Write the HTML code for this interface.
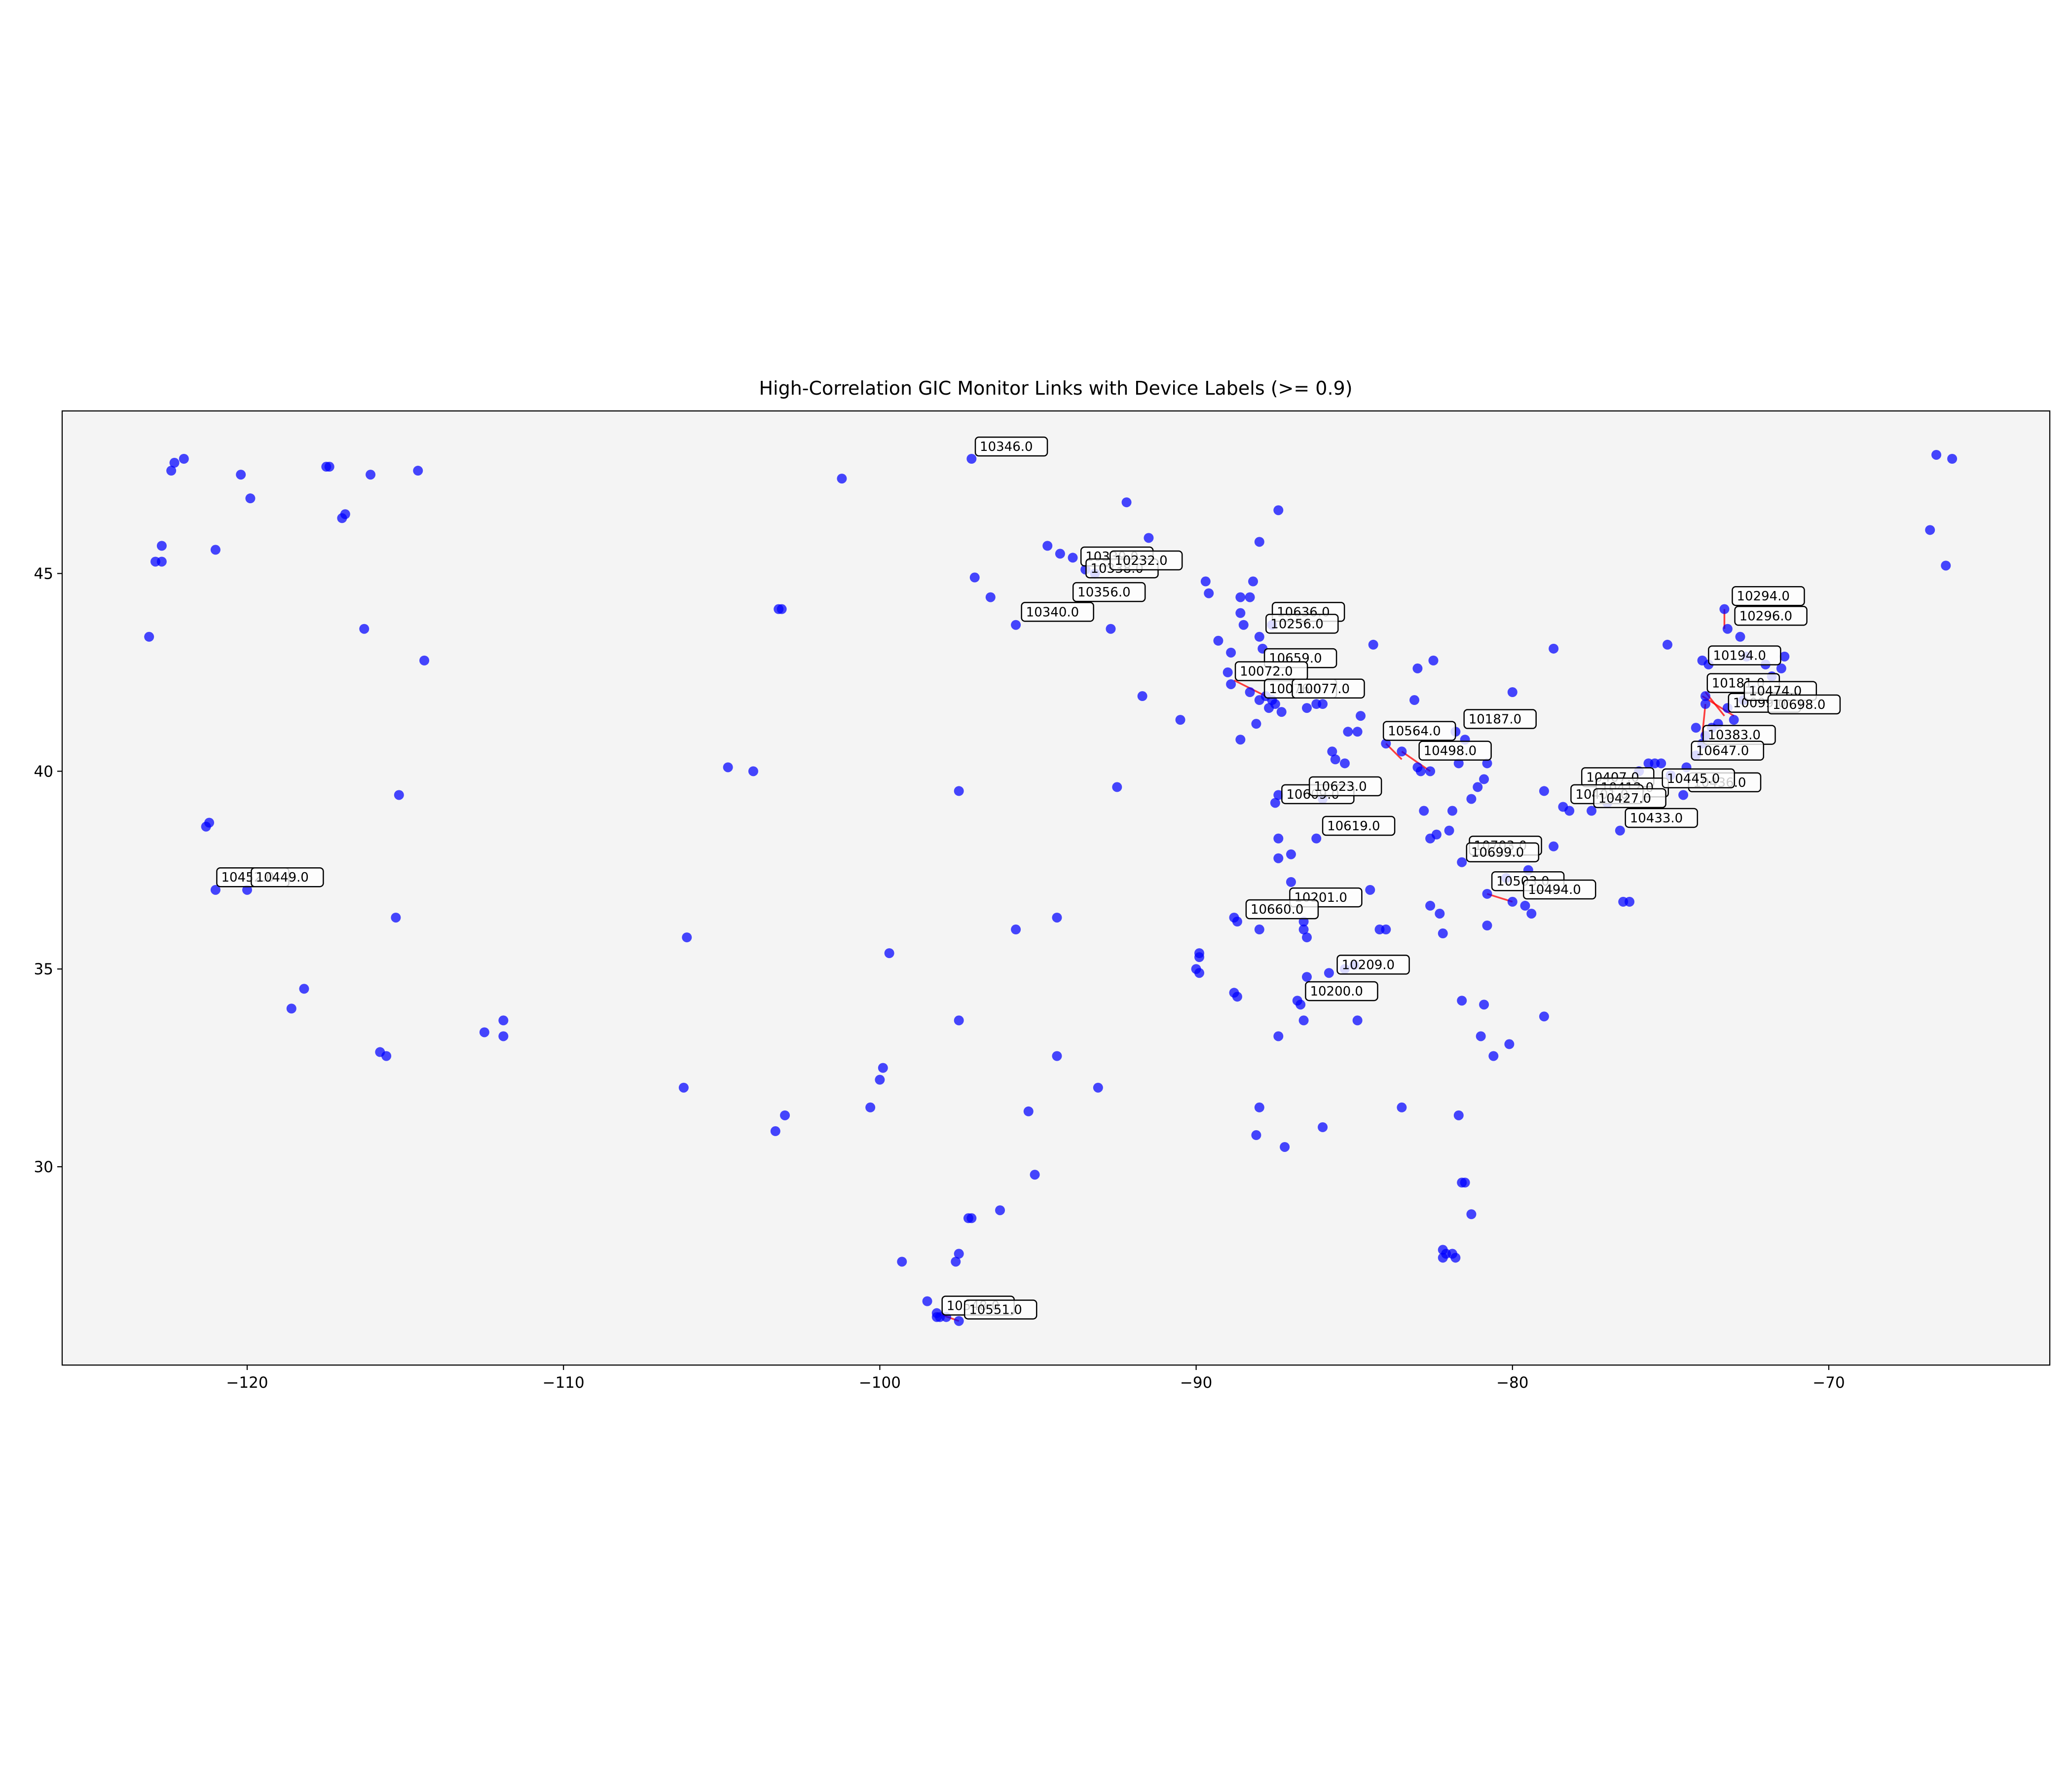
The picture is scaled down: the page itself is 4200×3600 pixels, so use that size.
<!DOCTYPE html>
<html><head><meta charset="utf-8"><style>
html,body{margin:0;padding:0;background:#fff;}
svg{display:block;font-family:"DejaVu Sans","Liberation Sans",sans-serif;}
</style></head><body>
<svg id="chart" width="4200" height="3600" viewBox="0 0 4200 3600" xmlns="http://www.w3.org/2000/svg">
<rect x="0" y="0" width="4200" height="3600" fill="#fff"/>
<text x="2140" y="800" text-anchor="middle" font-size="38" fill="#000">High-Correlation GIC Monitor Links with Device Labels (&gt;= 0.9)</text>
<rect x="126" y="833" width="4029" height="1934" fill="#f4f4f4"/>
<g id="links"></g><g id="points"></g><g id="labels"></g><g id="axes"></g>
<rect x="126" y="833" width="4029" height="1934" fill="none" stroke="#000" stroke-width="2.2"/>
</svg>
<script>
const xTicks=[-120,-110,-100,-90,-80,-70];
const yTicks=[30,35,40,45];
const lons=[-122.0,-122.3,-122.4,-120.2,-119.9,-122.7,-122.7,-122.9,-121.0,-123.1,-117.5,-117.4,-116.1,-114.6,-117.0,-116.9,-116.3,-114.4,-121.3,-121.2,-121.0,-120.0,-115.2,-115.3,-118.2,-118.6,-115.8,-115.6,-112.5,-111.9,-111.9,-106.2,-106.1,-104.8,-104.0,-103.1,-103.2,-101.2,-97.1,-103.3,-103.0,-99.7,-99.9,-100.0,-100.3,-97.5,-97.0,-96.5,-95.7,-94.7,-94.3,-93.9,-93.5,-93.2,-92.7,-92.2,-91.5,-91.7,-92.5,-90.5,-89.7,-89.6,-88.9,-89.3,-88.0,-87.4,-88.6,-88.3,-88.2,-88.6,-88.5,-88.0,-87.9,-87.6,-89.0,-88.9,-88.3,-88.0,-87.8,-87.7,-87.6,-87.3,-87.5,-86.5,-86.2,-86.0,-88.1,-88.6,-85.7,-85.6,-85.2,-84.9,-84.8,-85.3,-84.4,-83.0,-82.5,-83.1,-84.0,-83.5,-82.9,-82.6,-83.0,-81.8,-81.5,-81.7,-80.8,-80.0,-78.7,-81.1,-81.3,-80.9,-79.0,-78.4,-78.2,-77.5,-77.0,-76.6,-75.1,-76.5,-76.3,-79.4,-79.6,-80.0,-80.8,-80.2,-79.5,-78.7,-81.6,-82.0,-81.9,-82.6,-82.4,-82.8,-86.6,-86.5,-86.6,-87.4,-87.0,-87.0,-87.4,-86.2,-87.5,-87.4,-86.0,-88.8,-88.7,-88.0,-84.5,-84.0,-84.2,-82.6,-82.3,-82.2,-80.8,-86.5,-85.8,-85.3,-85.0,-86.8,-86.7,-86.6,-84.9,-87.4,-89.9,-89.9,-90.0,-89.9,-88.8,-88.7,-94.4,-95.7,-97.5,-94.4,-93.1,-95.3,-95.1,-96.2,-97.2,-97.1,-97.5,-97.6,-99.3,-98.5,-98.2,-98.1,-97.9,-97.5,-98.2,-88.0,-88.1,-87.2,-86.0,-83.5,-81.7,-81.6,-81.5,-81.3,-82.2,-82.1,-82.2,-81.9,-81.8,-81.6,-80.9,-81.0,-80.6,-80.1,-79.0,-74.0,-73.8,-73.3,-73.2,-72.8,-72.6,-72.0,-71.4,-71.5,-71.8,-72.4,-72.7,-73.2,-73.0,-73.5,-73.9,-73.9,-73.7,-74.2,-73.9,-74.0,-74.2,-74.5,-74.6,-75.0,-75.3,-75.5,-75.7,-76.0,-66.6,-66.1,-66.8,-66.3];
const lats=[47.9,47.8,47.6,47.5,46.9,45.7,45.3,45.3,45.6,43.4,47.7,47.7,47.5,47.6,46.4,46.5,43.6,42.8,38.6,38.7,37.0,37.0,39.4,36.3,34.5,34.0,32.9,32.8,33.4,33.3,33.7,32.0,35.8,40.1,40.0,44.1,44.1,47.4,47.9,30.9,31.3,35.4,32.5,32.2,31.5,39.5,44.9,44.4,43.7,45.7,45.5,45.4,45.1,45.0,43.6,46.8,45.9,41.9,39.6,41.3,44.8,44.5,43.0,43.3,45.8,46.6,44.4,44.4,44.8,44.0,43.7,43.4,43.1,43.7,42.5,42.2,42.0,41.8,41.9,41.6,41.8,41.5,41.7,41.6,41.7,41.7,41.2,40.8,40.5,40.3,41.0,41.0,41.4,40.2,43.2,42.6,42.8,41.8,40.7,40.5,40.0,40.0,40.1,41.0,40.8,40.2,40.2,42.0,43.1,39.6,39.3,39.8,39.5,39.1,39.0,39.0,39.2,38.5,43.2,36.7,36.7,36.4,36.6,36.7,36.9,37.3,37.5,38.1,37.7,38.5,39.0,38.3,38.4,39.0,36.0,35.8,36.2,37.8,37.9,37.2,38.3,38.3,39.2,39.4,39.3,36.3,36.2,36.0,37.0,36.0,36.0,36.6,36.4,35.9,36.1,34.8,34.9,35.0,35.1,34.2,34.1,33.7,33.7,33.3,35.3,35.4,35.0,34.9,34.4,34.3,36.3,36.0,33.7,32.8,32.0,31.4,29.8,28.9,28.7,28.7,27.8,27.6,27.6,26.6,26.3,26.2,26.2,26.1,26.2,31.5,30.8,30.5,31.0,31.5,31.3,29.6,29.6,28.8,27.9,27.8,27.7,27.8,27.7,34.2,34.1,33.3,32.8,33.1,33.8,42.8,42.7,44.1,43.6,43.4,42.9,42.7,42.9,42.6,42.4,42.1,41.8,41.6,41.3,41.2,41.9,41.7,41.1,41.1,40.9,40.7,40.4,40.1,39.4,39.9,40.2,40.2,40.2,40.0,48.0,47.9,46.1,45.2];
const linkLon1=[-88.8,-84.0,-83.5,-73.9,-73.9,-73.3,-80.8,-98.2,-74.0];
const linkLat1=[42.3,40.7,40.5,42.0,41.7,44.1,36.9,26.3,41.9];
const linkLon2=[-87.8,-83.5,-82.6,-73.3,-74.0,-73.3,-80.0,-97.5,-73.0];
const linkLat2=[41.9,40.3,40.0,41.4,40.9,43.6,36.7,26.1,41.4];
const labelText=["10346.0","10339.0","10338.0","10232.0","10356.0","10340.0","10636.0","10256.0","10659.0","10072.0","10076.0","10077.0","10564.0","10187.0","10498.0","10294.0","10296.0","10194.0","10181.0","10099.0","10474.0","10698.0","10383.0","10647.0","10436.0","10407.0","10412.0","10401.0","10427.0","10445.0","10433.0","10609.0","10623.0","10619.0","10703.0","10699.0","10503.0","10494.0","10201.0","10660.0","10209.0","10200.0","10548.0","10551.0","10452.0","10449.0"];
const labelLon=[-96.98,-93.64,-93.48,-92.72,-93.89,-95.52,-87.59,-87.79,-87.84,-88.76,-87.84,-86.96,-84.08,-81.53,-82.95,-73.05,-72.97,-73.80,-73.84,-73.17,-72.67,-71.92,-73.97,-74.34,-74.43,-77.81,-77.35,-78.15,-77.43,-75.26,-76.43,-87.29,-86.42,-86.0,-81.36,-81.45,-80.65,-79.65,-87.04,-88.42,-85.54,-86.54,-98.03,-97.32,-120.96,-119.87];
const labelLat=[48.21,45.43,45.13,45.33,44.53,44.03,44.03,43.73,42.86,42.53,42.09,42.09,41.02,41.32,40.52,44.43,43.93,42.93,42.23,41.73,42.03,41.69,40.92,40.52,39.72,39.85,39.59,39.42,39.32,39.82,38.82,39.42,39.62,38.62,38.12,37.95,37.22,37.01,36.81,36.51,35.11,34.44,26.49,26.39,37.32,37.32];

const NS="http://www.w3.org/2000/svg";
const X0=126,X1=4155,Y0=833,Y1=2767;
function xs(v){return 501+(v+120)*64.12;}
function ys(v){return 1162.5-(v-45)*80.17;}
function mk(tag,attrs,parent){const e=document.createElementNS(NS,tag);for(const k in attrs)e.setAttribute(k,attrs[k]);parent.appendChild(e);return e;}
const gL=document.getElementById('links'),gP=document.getElementById('points'),gT=document.getElementById('labels'),gA=document.getElementById('axes');
for(let i=0;i<linkLon1.length;i++){
  const l=mk('line',{x1:xs(linkLon1[i]),y1:ys(linkLat1[i]),x2:xs(linkLon2[i]),y2:ys(linkLat2[i]),stroke:'#ff0000','stroke-opacity':0.75,'stroke-width':3.5},gL);
  
  
}
for(let i=0;i<lons.length;i++){
  const c=mk('circle',{cx:xs(lons[i]),cy:ys(lats[i]),r:10,fill:'#0000ff','fill-opacity':0.72},gP);
  
  
}
for(let i=0;i<labelText.length;i++){
  const x=xs(labelLon[i]),y=ys(labelLat[i]);
  const g=mk('g',{},gT);
  
  
  mk('rect',{x:x,y:y-19,width:146,height:38,rx:7,fill:'#fff','fill-opacity':0.8,stroke:'#000','stroke-width':2.5},g);
  const t=mk('text',{x:x+9,y:y+9,'font-size':26,fill:'#000'},g);
  t.textContent=labelText[i];
}
for(const v of xTicks){
  const x=xs(v);
  mk('line',{x1:x,y1:Y1,x2:x,y2:Y1+10,stroke:'#000','stroke-width':2.2},gA);
  const t=mk('text',{x:x,y:Y1+46,'text-anchor':'middle','font-size':31,fill:'#000'},gA);
  
  
  t.textContent='\u2212'+Math.abs(v);
}
for(const v of yTicks){
  const y=ys(v);
  mk('line',{x1:X0-10,y1:y,x2:X0,y2:y,stroke:'#000','stroke-width':2.2},gA);
  const t=mk('text',{x:X0-18,y:y+11,'text-anchor':'end','font-size':31,fill:'#000'},gA);
  
  
  t.textContent=String(v);
}
</script>
</body></html>
